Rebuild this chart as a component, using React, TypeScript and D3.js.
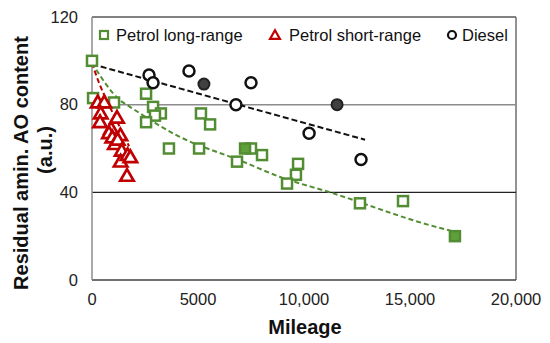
import React from 'react';
import * as d3 from 'd3';

// mileage, residual content (a.u.)
const petrolLong: [number, number][] = [
  [0, 100], [50, 83], [1040, 81], [2550, 85], [2880, 79], [3250, 76], [2970, 75],
  [2550, 72], [5140, 76], [5570, 71], [3630, 60], [5050, 60], [6840, 54], [7500, 60],
  [8020, 57], [9720, 53], [9620, 48], [9200, 44], [12640, 35], [14670, 36],
];
const petrolLongFilled: [number, number][] = [[7220, 60], [17120, 20]];

const petrolShort: [number, number][] = [
  [270, 81], [580, 81], [410, 76], [380, 72], [1180, 74], [900, 69], [800, 67],
  [1340, 66], [960, 65], [1080, 62], [1210, 64], [1400, 59], [1350, 54], [1680, 57],
  [1810, 56], [1650, 47.5],
];

const diesel: [number, number][] = [
  [2690, 93.5], [2880, 90], [4575, 95.4], [7500, 90], [6790, 80], [10240, 67], [12690, 55],
];
const dieselFilled: [number, number][] = [[5280, 89.4], [11560, 80]];

// trend lines
const trendLong: [number, number][] = [
  [0, 99], [1320, 82], [1790, 79], [4000, 66], [7120, 54], [8870, 47], [11230, 40], [15940, 25], [17120, 22],
];
const trendShort: [number, number][] = [[0, 99], [330, 90], [690, 82], [1200, 72], [1750, 61]];
const trendDiesel: [number, number][] = [[0, 98.5], [12880, 64]];

const xTicks = [0, 5000, 10000, 15000, 20000];
const yTicks = [0, 40, 80, 120];

const GREEN = '#538d33';
const RED = '#c00000';
const FONT = 'Liberation Sans, Arial, sans-serif';

export default function App() {
  const width = 550, height = 343;
  const m = { left: 92, right: 516, top: 17, bottom: 280 };

  const x = d3.scaleLinear().domain([0, 20000]).range([m.left, m.right]);
  const y = d3.scaleLinear().domain([0, 120]).range([m.bottom, m.top]);

  const curve = d3.line<[number, number]>()
    .x(d => x(d[0])).y(d => y(d[1]))
    .curve(d3.curveMonotoneX);

  const tri = d3.symbol().type(d3.symbolTriangle).size(78)();
  const triLegend = d3.symbol().type(d3.symbolTriangle).size(42)();
  const fmt = (v: number) => v >= 10000 ? d3.format(',')(v) : String(v);

  const square = (d: [number, number], i: number, fill: string) => (
    <rect key={i} x={x(d[0]) - 5} y={y(d[1]) - 5} width={10} height={10}
      fill={fill} stroke={GREEN} strokeWidth={2.5} />
  );

  return (
    <svg width={width} height={height} style={{ position: 'absolute', left: 0, top: 0 }}
      fontFamily={FONT}>
      <rect width={width} height={height} fill="#fff" />

      {/* plot frame and grid */}
      <line x1={m.left} x2={m.right} y1={y(120)} y2={y(120)} stroke="#595959" strokeWidth={1.3} />
      <line x1={m.right} x2={m.right} y1={m.top} y2={m.bottom} stroke="#595959" strokeWidth={1.3} />
      <line x1={m.left} x2={m.right} y1={y(80)} y2={y(80)} stroke="#8c8c8c" strokeWidth={1.5} />
      <line x1={m.left} x2={m.right} y1={y(40)} y2={y(40)} stroke="#222" strokeWidth={1.2} />
      <line x1={m.left} x2={m.right} y1={m.bottom} y2={m.bottom} stroke="#404040" strokeWidth={1.3} />
      <line x1={m.left} x2={m.left} y1={m.top} y2={m.bottom} stroke="#8c8c8c" strokeWidth={1.5} />

      {/* tick labels */}
      {yTicks.map(t => (
        <text key={t} x={78} y={y(t)} dy="0.35em" textAnchor="end" fontSize={16.5} fill="#222">{t}</text>
      ))}
      {xTicks.map(t => (
        <text key={t} x={x(t)} y={305} textAnchor="middle" fontSize={16.5} fill="#222">{fmt(t)}</text>
      ))}

      {/* axis titles */}
      <text x={305} y={334} textAnchor="middle" fontSize={20} fontWeight="bold" fill="#111">Mileage</text>
      <g transform="translate(21,163) rotate(-90)">
        <text x={0} y={0} dy="0.35em" textAnchor="middle" fontSize={20} fontWeight="bold" fill="#111">
          Residual amin. AO content
        </text>
      </g>
      <g transform="translate(45,150) rotate(-90)">
        <text x={0} y={0} dy="0.35em" textAnchor="middle" fontSize={20} fontWeight="bold" fill="#111">(a.u.)</text>
      </g>

      {/* trend lines */}
      <path d={curve(trendDiesel) || ''} fill="none" stroke="#111" strokeWidth={2} strokeDasharray="6,3" />
      <path d={curve(trendLong) || ''} fill="none" stroke={GREEN} strokeWidth={2} strokeDasharray="5,3" />
      <path d={curve(trendShort) || ''} fill="none" stroke={RED} strokeWidth={2} strokeDasharray="5,3" />

      {/* markers */}
      {petrolLong.map((d, i) => square(d, i, '#fff'))}
      {petrolLongFilled.map((d, i) => square(d, i, '#5fa03a'))}
      {petrolShort.map((d, i) => (
        <path key={i} d={tri || ''} transform={`translate(${x(d[0])},${y(d[1]) + 1})`}
          fill="#fff" stroke={RED} strokeWidth={2.7} strokeLinejoin="miter" />
      ))}
      {diesel.map((d, i) => (
        <circle key={i} cx={x(d[0])} cy={y(d[1])} r={5.5} fill="#fff" stroke="#111" strokeWidth={2.5} />
      ))}
      {dieselFilled.map((d, i) => (
        <circle key={i} cx={x(d[0])} cy={y(d[1])} r={5.5} fill="#404040" stroke="#222" strokeWidth={2} />
      ))}

      {/* legend */}
      <g fontSize={16.5} fill="#111">
        <rect x={100} y={31} width={8} height={8} fill="#fff" stroke={GREEN} strokeWidth={2.2} />
        <text x={116} y={35} dy="0.35em">Petrol long-range</text>
        <path d={triLegend || ''} transform="translate(275,36)" fill="#fff" stroke={RED} strokeWidth={2.2} />
        <text x={289} y={35} dy="0.35em">Petrol short-range</text>
        <circle cx={452} cy={35} r={4} fill="#fff" stroke="#111" strokeWidth={2.2} />
        <text x={462} y={35} dy="0.35em">Diesel</text>
      </g>
    </svg>
  );
}
